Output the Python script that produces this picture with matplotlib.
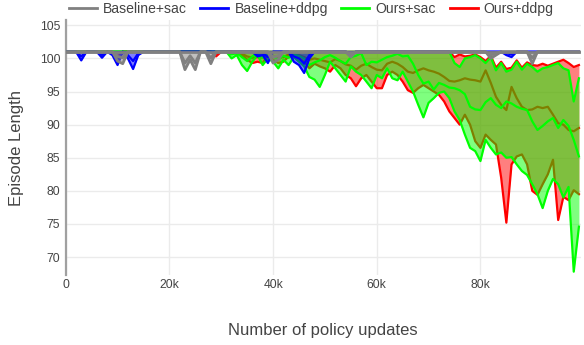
import numpy as np
import matplotlib.pyplot as plt
from matplotlib.lines import Line2D

plt.rcParams['font.family'] = ['Liberation Sans', 'DejaVu Sans']

# --- data: policy updates (x1000) and episode length bands ---
steps = np.arange(100) * 1000
CAP = 101.0

# Ours+sac (green)
sac_hi = [101.0] * 75 + [
    99.3, 98.7, 100.0, 100.2, 100.5, 100.0, 99.3, 100.2, 98.2, 99.3,
    98.0, 98.3, 99.5, 98.3, 99.2, 98.7, 98.0, 98.5, 98.7, 99.0,
    99.3, 98.5, 98.2, 93.5, 97.0]
sac_mean = [101.0] * 32 + [
    100.6, 100.8, 100.2, 99.6, 100.3, 100.8, 100.1, 100.6, 100.3, 99.8,
    100.4, 100.1, 100.6, 100.4, 100.0, 99.0, 99.4, 99.7, 100.2, 100.5,
    100.1, 99.6, 99.2, 100.2, 100.4, 100.8, 99.0, 99.5, 99.4, 99.8,
    100.2, 100.4, 100.7, 100.3, 100.4, 99.2, 97.5, 96.2, 96.5, 95.3,
    96.3, 96.0, 95.6, 95.5, 95.2, 94.6, 92.7, 92.3, 92.2, 93.4,
    94.0, 93.0, 92.5, 93.5, 93.2, 92.7, 92.4, 92.2, 90.5, 89.2,
    89.8, 90.5, 91.0, 89.5, 90.7, 89.8, 87.7, 85.2]
sac_lo = [101.0] * 32 + [
    100.0, 100.5, 99.0, 98.1, 99.5, 100.5, 99.0, 100.0, 99.5, 98.5,
    99.8, 99.0, 100.2, 99.5, 98.8, 97.2, 96.8, 95.7, 97.5, 99.5,
    98.5, 97.5, 96.5, 98.8, 98.0, 97.5, 96.5, 95.5, 97.5, 97.0,
    98.5, 97.0, 96.7, 98.0, 96.5, 95.0, 93.0, 91.1, 93.3, 94.0,
    94.8, 95.0, 94.0, 92.0, 90.7, 88.5, 86.5, 86.0, 84.5, 87.7,
    86.5, 85.5, 85.8, 85.0, 85.1, 84.0, 83.0, 82.4, 81.0, 79.5,
    77.4, 80.0, 81.8, 81.0, 79.0, 80.6, 67.8, 74.6]

# Ours+ddpg (red)
ddpg_hi = [101.0] * 75 + [
    100.2, 100.6, 100.3, 100.4, 100.6, 100.2, 99.6, 100.4, 98.6, 99.5,
    98.4, 98.6, 99.7, 98.6, 99.4, 99.0, 98.9, 99.2, 98.9, 99.2,
    99.5, 99.8, 99.3, 98.7, 99.0]
ddpg_mean = [101.0] * 10 + [100.2] + [101.0] * 18 + [100.7, 101.0, 101.0, 101.0] + [
    100.8, 100.7, 100.3, 100.1, 100.2, 100.1, 100.7, 100.4, 100.1, 100.2,
    100.6, 100.7, 100.5, 100.2, 99.8, 100.0, 99.8, 99.6, 99.4, 99.9,
    99.6, 99.1, 98.9, 98.3, 98.9, 99.2, 98.7, 98.3, 98.2, 99.2,
    99.5, 99.2, 98.7, 98.0, 97.8, 98.2, 98.5, 98.2, 98.0, 97.7,
    97.2, 96.6, 96.5, 96.7, 97.0, 96.8, 96.7, 96.5, 98.2, 96.3,
    94.2, 93.0, 92.2, 95.7, 94.0, 92.7, 92.2, 92.3, 92.7, 92.5,
    92.7, 91.5, 90.2, 90.0, 89.2, 89.0, 89.5]
ddpg_lo = [101.0] * 10 + [99.3] + [101.0] * 18 + [100.3, 101.0, 101.0, 101.0] + [
    100.7, 100.5, 99.8, 99.3, 99.5, 99.3, 100.5, 99.8, 99.3, 99.5,
    100.3, 100.5, 100.0, 99.5, 98.5, 99.2, 98.8, 98.5, 98.0, 99.0,
    98.5, 97.5, 97.0, 95.8, 97.0, 97.5, 96.5, 95.5, 95.5, 97.5,
    98.0, 97.5, 96.5, 95.2, 94.8, 95.5, 96.0, 95.5, 95.0, 94.5,
    93.5, 92.0, 91.0, 90.0, 91.5, 90.0, 87.5, 86.5, 88.5, 87.7,
    87.0, 82.0, 75.2, 84.0, 85.2, 85.5, 84.0, 80.0, 79.4, 81.0,
    82.5, 84.7, 75.6, 79.1, 78.6, 80.1, 79.5]

# Baseline+sac (gray): only the dips below the cap (upper bound stays at the cap)
bsac_k = [10, 11, 23, 24, 25, 28, 40, 41, 55, 82, 83, 90]
bsac_lo = [99.6, 99.2, 98.3, 99.8, 98.3, 99.2, 99.3, 99.8, 100.2, 100.0, 100.5, 99.2]
bsac_mean = [100.3, 100.1, 99.3, 100.4, 99.3, 100.1, 100.2, 100.4, 100.6, 100.5, 100.8, 100.1]

# Baseline+ddpg (blue): only the dips below the cap
bddpg_k = [3, 7, 9, 10, 12, 13, 14, 37, 38, 39, 44, 45, 46, 47, 55, 85, 86]
bddpg_lo = [99.7, 100.1, 100.5, 99.0, 100.0, 98.4, 100.5, 100.3, 100.5, 99.3,
            99.5, 99.0, 97.8, 100.0, 100.6, 100.5, 100.2]
bddpg_mean = [100.3, 100.5, 100.8, 99.9, 100.5, 99.6, 100.8, 100.7, 100.8, 100.2,
              100.3, 100.0, 99.2, 100.5, 100.8, 100.8, 100.6]

labels = ['Baseline+sac', 'Baseline+ddpg', 'Ours+sac', 'Ours+ddpg']
colors = ['#808080', '#0000ff', '#00ff00', '#ff0000']


def dips_to_series(ks, vals):
    s = np.full(len(steps), CAP)
    s[ks] = vals
    return s


cap_line = np.full(len(steps), CAP)

fig = plt.figure(figsize=(5.84, 3.45), dpi=100)
ax = fig.add_axes([65.7 / 584, 1 - 275 / 345, (581 - 65.7) / 584, 255 / 345])

# drawn red first, then green, blue, gray on top (as in the original)
bands = [
    (ddpg_lo, ddpg_mean, ddpg_hi, colors[3], 2, 1.6),
    (sac_lo, sac_mean, sac_hi, colors[2], 3, 1.6),
    (dips_to_series(bddpg_k, bddpg_lo), dips_to_series(bddpg_k, bddpg_mean),
     cap_line, colors[1], 4, 1.6),
    (dips_to_series(bsac_k, bsac_lo), dips_to_series(bsac_k, bsac_mean),
     cap_line, colors[0], 5, 2.0),
]
for lo, mean, hi, c, z, lw in bands:
    ax.fill_between(steps, lo, hi, color=c, alpha=0.5, lw=0, zorder=z)
    for s in (lo, hi, mean):
        ax.plot(steps, s, color=c, lw=lw, zorder=z, solid_joinstyle='round')

ax.set_xlim(0, 99400)
ax.set_ylim(67.3, 105.8)
ax.set_xticks([0, 20000, 40000, 60000, 80000])
ax.set_xticklabels(['0', '20k', '40k', '60k', '80k'])
ax.set_yticks([70, 75, 80, 85, 90, 95, 100, 105])
ax.grid(True, color='#ebebeb', lw=1)
ax.set_axisbelow(True)
for side in ['top', 'right', 'bottom']:
    ax.spines[side].set_visible(False)
ax.spines['left'].set_color('#a0a0a0')
ax.spines['left'].set_linewidth(1.6)
ax.tick_params(length=0, labelsize=8.7, colors='#444444', pad=4)
ax.tick_params(axis='x', pad=3)

fig.text(323 / 584, 1 - 331 / 345, 'Number of policy updates', ha='center', va='center',
         fontsize=12, color='#444444')
fig.text(17 / 584, 1 - 148 / 345, 'Episode Length', ha='center', va='center',
         rotation=90, fontsize=12, color='#444444')

handles = [Line2D([0], [0], color=c, lw=2) for c in colors]
fig.legend(handles, labels, loc='center', bbox_to_anchor=(0.533, 1 - 9 / 345), ncol=4,
           frameon=False, fontsize=10.1, handlelength=2.0, handletextpad=0.45,
           columnspacing=0.95, labelcolor='#444444', borderaxespad=0)

fig.savefig('out.png', dpi=100)
